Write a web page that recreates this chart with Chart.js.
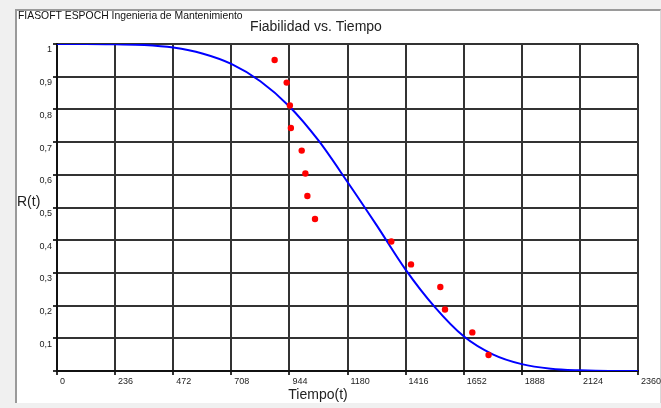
<!DOCTYPE html>
<html>
<head>
<meta charset="utf-8">
<script src="https://cdn.jsdelivr.net/npm/chart.js@4"></script>
<style>
  html, body { margin: 0; padding: 0; background: #f0f0f0; }
  #wrap { position: relative; width: 661px; height: 408px; overflow: hidden; }
  #panel {
    position: absolute; left: 15px; top: 9px; width: 643px; height: 392px;
    background: #fff; border-left: 2px solid #9a9a9a; border-top: 2px solid #9a9a9a;
    border-right: 1px solid #d8d8d8;
  }
  canvas { position: absolute; left: 0; top: 0; }
</style>
</head>
<body>
<div id="wrap">
  <div id="panel"></div>
  <canvas id="reliability-chart" width="661" height="408"></canvas>
</div>
<script>
// fitted reliability curve
const curveTimes = [0, 118, 236, 354, 472, 590, 708, 826, 944, 1062, 1180,
                    1298, 1416, 1534, 1652, 1770, 1888, 2006, 2124, 2242, 2360];
const curveReliability = [1.000, 1.000, 0.999, 0.997, 0.989, 0.971, 0.939, 0.886, 0.809, 0.705, 0.578,
                          0.446, 0.310, 0.196, 0.106, 0.051, 0.021, 0.007, 0.002, 0.000, 0.000];

// failure data (red points)
const failureTimes = [884, 933, 946, 950, 994, 1009, 1017, 1048, 1358, 1438, 1557, 1576, 1687, 1753];
const failureReliability = [0.951, 0.882, 0.812, 0.743, 0.674, 0.604, 0.535, 0.465,
                            0.396, 0.326, 0.257, 0.188, 0.118, 0.049];

const xMax = 2360;
const xStep = 236;
const yStep = 0.1;

const headerText = 'FIASOFT ESPOCH Ingenieria de Mantenimiento';
const titleText = 'Fiabilidad vs. Tiempo';
const xTitle = 'Tiempo(t)';
const yTitle = 'R(t)';

const fontFamily = '"Liberation Sans", Arial, sans-serif';

const textPlugin = {
    id: 'texts',
    afterDraw(chart) {
        const c = chart.ctx;
        c.save();
        c.fillStyle = '#111';
        c.textBaseline = 'middle';
        c.textAlign = 'left';
        c.font = '10.4px ' + fontFamily;
        c.fillText(headerText, 18, 16);
        c.font = '14px ' + fontFamily;
        c.textAlign = 'center';
        c.fillStyle = '#222';
        c.fillText(titleText, 316, 27);
        c.fillText(xTitle, 318, 395);
        c.textAlign = 'left';
        c.fillText(yTitle, 17, 202);
        c.restore();
    }
};

const ctx = document.getElementById('reliability-chart');

new Chart(ctx, {
    type: 'scatter',
    data: {
        datasets: [{
            data: curveTimes.map((t, i) => ({ x: t, y: curveReliability[i] })),
            showLine: true,
            borderColor: '#0000ff',
            borderWidth: 2,
            pointRadius: 0,
            cubicInterpolationMode: 'monotone',
            order: 2
        }, {
            data: failureTimes.map((t, i) => ({ x: t, y: failureReliability[i] })),
            pointRadius: 3.2,
            backgroundColor: '#ff0000',
            borderWidth: 0,
            order: 1
        }]
    },
    options: {
        responsive: false,
        animation: false,
        layout: { padding: { left: 17, top: 44, right: 23, bottom: 0 } },
        plugins: {
            legend: { display: false },
            tooltip: { enabled: false }
        },
        scales: {
            x: {
                type: 'linear',
                min: 0,
                max: xMax,
                ticks: {
                    stepSize: xStep,
                    align: 'start',
                    labelOffset: 3,
                    maxRotation: 0,
                    autoSkip: false,
                    padding: 1,
                    color: '#222',
                    font: { family: fontFamily, size: 9 },
                    callback: function (value) {
                        return String(Math.round(value));
                    }
                },
                grid: { color: '#333', lineWidth: 2, tickLength: 4 },
                border: { color: '#111', width: 2 },
                afterFit(scale) {
                    scale.height = 37;
                    scale.paddingLeft = 0;
                    scale.paddingRight = 0;
                }
            },
            y: {
                min: 0,
                max: 1,
                ticks: {
                    stepSize: yStep,
                    labelOffset: 6,
                    padding: 1,
                    color: '#222',
                    font: { family: fontFamily, size: 9 },
                    callback: function (value) {
                        if (value === 0) return '';
                        return String(Math.round(value * 10) / 10).replace('.', ',');
                    }
                },
                grid: { color: '#333', lineWidth: 2, tickLength: 4 },
                border: { color: '#111', width: 2 },
                afterFit(scale) {
                    scale.width = 40;
                    scale.paddingTop = 0;
                    scale.paddingBottom = 0;
                }
            }
        }
    },
    plugins: [textPlugin]
});
</script>
</body>
</html>
